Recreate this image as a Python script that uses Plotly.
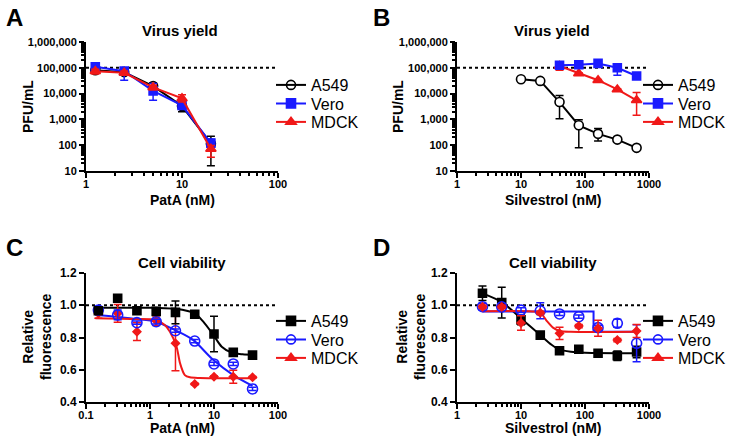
import plotly.graph_objects as go

# ---------------- data ----------------
# Panel A: virus yield vs PatA (nM)
A_conc = [1.25, 2.5, 5, 10, 20]
A_a549 = [80000, 68000, 19500, 3300, 115]
A_a549_hi = [95000, 80000, 26000, 4500, 220]
A_a549_lo = [62000, 55000, 14000, 2000, 16]
A_vero = [110000, 74000, 12700, 3500, 120]
A_vero_hi = [130000, 100000, 24500, 4200, 170]
A_vero_lo = [85000, 33000, 5500, 2800, 85]
A_mdck = [74000, 64000, 17500, 6500, 72]
A_mdck_hi = [88000, 75000, 21000, 9100, 98]
A_mdck_lo = [58000, 52000, 14000, 4700, 34]

# Panel B: virus yield vs Silvestrol (nM)
B_conc_a549 = [10, 20, 40, 80, 160, 320, 640]
B_a549 = [36000, 31000, 4700, 590, 275, 165, 79]
B_a549_hi = [38000, 33000, 8500, 980, 440, 185, 85]
B_a549_lo = [34000, 29000, 1070, 80, 145, 145, 73]
B_conc = [40, 80, 160, 320, 640]
B_vero = [126000, 131000, 148000, 100000, 48000]
B_vero_hi = [140000, 140000, 160000, 125000, 52000]
B_vero_lo = [112000, 122000, 136000, 51000, 44000]
B_mdck = [117000, 60000, 33000, 14500, 5500]
B_mdck_hi = [145000, 64000, 35000, 15500, 11000]
B_mdck_lo = [80000, 56000, 31000, 13500, 1450]

# Panel C: cell viability vs PatA (nM)
C_conc = [0.156, 0.3125, 0.625, 1.25, 2.5, 5, 10, 20, 40]
C_a549 = [0.966, 1.043, 0.966, 0.962, 0.956, 0.944, 0.822, 0.708, 0.691]
C_a549_err = [0.01, 0.01, 0.01, 0.01, 0.071, 0.02, 0.11, 0.01, 0.01]
C_vero = [0.97, 0.94, 0.892, 0.898, 0.842, 0.778, 0.636, 0.636, 0.481]
C_vero_err = [0.01, 0.03, 0.01, 0.015, 0.01, 0.01, 0.01, 0.01, 0.01]
C_mdck = [0.95, 0.95, 0.836, 0.904, 0.764, 0.512, 0.557, 0.557, 0.553]
C_mdck_err = [0.03, 0.055, 0.055, 0.03, 0.17, 0.005, 0.005, 0.04, 0.005]
# fitted curves
C_fit_a549_x = [0.14, 0.3125, 0.625, 1.25, 2.5, 5, 6.8, 9.8, 13.2, 18.9, 28, 40]
C_fit_a549_y = [0.985, 0.985, 0.985, 0.984, 0.978, 0.95, 0.898, 0.815, 0.743, 0.706, 0.696, 0.693]
C_fit_vero_x = [0.14, 0.3, 0.6, 1.24, 2.45, 4.7, 9.8, 20, 40]
C_fit_vero_y = [0.94, 0.929, 0.915, 0.898, 0.846, 0.785, 0.66, 0.567, 0.50]
C_fit_mdck_x = [0.14, 0.5, 1.24, 1.7, 2.05, 2.6, 2.95, 3.5, 4.2, 6, 10, 20, 40]
C_fit_mdck_y = [0.919, 0.915, 0.909, 0.878, 0.836, 0.743, 0.64, 0.567, 0.553, 0.549, 0.548, 0.548, 0.548]

# Panel D: cell viability vs Silvestrol (nM)
D_conc = [2.5, 5, 10, 20, 40, 80, 160, 320, 640]
D_a549 = [1.074, 1.016, 0.909, 0.815, 0.718, 0.727, 0.702, 0.687, 0.71]
D_a549_err = [0.045, 0.095, 0.03, 0.01, 0.01, 0.01, 0.01, 0.03, 0.035]
D_vero = [0.991, 0.99, 0.97, 0.966, 0.946, 0.929, 0.861, 0.888, 0.764]
D_vero_err = [0.02, 0.01, 0.015, 0.05, 0.01, 0.01, 0.015, 0.025, 0.115]
D_mdck = [0.99, 0.99, 0.89, 0.953, 0.826, 0.871, 0.857, 0.784, 0.84]
D_mdck_err = [0.01, 0.01, 0.045, 0.01, 0.038, 0.01, 0.05, 0.01, 0.04]
D_fit_a549_x = [2.5, 5, 10, 20, 30, 40, 60, 100, 640]
D_fit_a549_y = [1.074, 1.02, 0.918, 0.815, 0.755, 0.725, 0.712, 0.706, 0.703]
D_fit_vero_x = [2.5, 136, 136, 640]
D_fit_vero_y = [0.962, 0.962, 0.836, 0.836]
D_fit_mdck_x = [2.5, 15, 20, 25, 32, 41, 60, 640]
D_fit_mdck_y = [0.963, 0.962, 0.955, 0.905, 0.86, 0.84, 0.835, 0.835]

series_names = ["A549", "Vero", "MDCK"]
panel_letters = ["A", "B", "C", "D"]
panel_titles = ["Virus yield", "Virus yield", "Cell viability", "Cell viability"]
x_titles = ["PatA (nM)", "Silvestrol (nM)", "PatA (nM)", "Silvestrol (nM)"]
y_titles = ["PFU/mL", "PFU/mL", "Relative<br>fluorescence", "Relative<br>fluorescence"]

# ---------------- style ----------------
FONT = "Liberation Sans, Arial, sans-serif"
BLACK = "#000000"
BLUE = "#1a1aff"
RED = "#f01818"
W, H = 734, 446


def px_x(p):
    return p / W


def px_y(p):
    return 1 - p / H


fig = go.Figure()


def diff(a, b):
    return [x - y for x, y in zip(a, b)]


def add_yield(x, y, hi, lo, xa, ya, color, symbol, size, open_=False):
    fig.add_trace(go.Scatter(
        x=x, y=y, xaxis=xa, yaxis=ya, mode="lines+markers", showlegend=False,
        line=dict(color=color, width=2),
        marker=dict(symbol=symbol, size=size, color=color if not open_ else "white",
                    line=dict(color=color, width=1.6)),
        error_y=dict(type="data", symmetric=False, array=diff(hi, y), arrayminus=diff(y, lo),
                     color=color, thickness=1.5, width=4),
    ))


def add_viab(x, y, err, xa, ya, color, symbol, size):
    fig.add_trace(go.Scatter(
        x=x, y=y, xaxis=xa, yaxis=ya, mode="markers", showlegend=False,
        marker=dict(symbol=symbol, size=size, color=color,
                    line=dict(color=color, width=1.6)),
        error_y=dict(type="data", array=err, color=color, thickness=1.5, width=4),
    ))


def add_fit(x, y, xa, ya, color, shape="spline"):
    fig.add_trace(go.Scatter(
        x=x, y=y, xaxis=xa, yaxis=ya, mode="lines", showlegend=False,
        line=dict(color=color, width=2, shape=shape, smoothing=0.8 if shape == "spline" else None),
        hoverinfo="skip",
    ))


# fitted curves first (beneath markers)
add_fit(C_fit_a549_x, C_fit_a549_y, "x3", "y3", BLACK)
add_fit(C_fit_vero_x, C_fit_vero_y, "x3", "y3", BLUE)
add_fit(C_fit_mdck_x, C_fit_mdck_y, "x3", "y3", RED)
add_fit(D_fit_a549_x, D_fit_a549_y, "x4", "y4", BLACK)
add_fit(D_fit_vero_x, D_fit_vero_y, "x4", "y4", BLUE, shape="linear")
add_fit(D_fit_mdck_x, D_fit_mdck_y, "x4", "y4", RED)

# Panel A
add_yield(A_conc, A_a549, A_a549_hi, A_a549_lo, "x", "y", BLACK, "circle", 9, open_=True)
add_yield(A_conc, A_vero, A_vero_hi, A_vero_lo, "x", "y", BLUE, "square", 8)
add_yield(A_conc, A_mdck, A_mdck_hi, A_mdck_lo, "x", "y", RED, "triangle-up", 9)
# Panel B
add_yield(B_conc_a549, B_a549, B_a549_hi, B_a549_lo, "x2", "y2", BLACK, "circle", 9, open_=True)
add_yield(B_conc, B_mdck, B_mdck_hi, B_mdck_lo, "x2", "y2", RED, "triangle-up", 9)
add_yield(B_conc, B_vero, B_vero_hi, B_vero_lo, "x2", "y2", BLUE, "square", 8)
# Panel C
add_viab(C_conc, C_mdck, C_mdck_err, "x3", "y3", RED, "diamond", 6)
add_viab(C_conc, C_vero, C_vero_err, "x3", "y3", BLUE, "circle-open", 10)
add_viab(C_conc, C_a549, C_a549_err, "x3", "y3", BLACK, "square", 8)
# Panel D
add_viab(D_conc, D_a549, D_a549_err, "x4", "y4", BLACK, "square", 8)
add_viab(D_conc, D_vero, D_vero_err, "x4", "y4", BLUE, "circle-open", 10)
add_viab(D_conc, D_mdck, D_mdck_err, "x4", "y4", RED, "diamond", 6)

# legend-only traces: one single-item legend per row so the row spacing matches
legend_specs = [
    ("x", "y", 271, [85, 103.5, 122], [(BLACK, "circle-open"), (BLUE, "square"), (RED, "triangle-up")]),
    ("x2", "y2", 638, [85, 103.5, 122], [(BLACK, "circle-open"), (BLUE, "square"), (RED, "triangle-up")]),
    ("x3", "y3", 271, [321, 339.5, 358], [(BLACK, "square"), (BLUE, "circle-open"), (RED, "triangle-up")]),
    ("x4", "y4", 638, [321, 339.5, 358], [(BLACK, "square"), (BLUE, "circle-open"), (RED, "triangle-up")]),
]
leg_common = dict(font=dict(family=FONT, size=16, color=BLACK), bgcolor="rgba(0,0,0,0)",
                  borderwidth=0, itemwidth=30, tracegroupgap=0, yanchor="middle", xanchor="left",
                  itemclick=False, itemdoubleclick=False)
legends = {}
k = 0
for xa, ya, lx, rows, specs in legend_specs:
    for name, (col, sym), ry in zip(series_names, specs, rows):
        k += 1
        lname = "legend" if k == 1 else f"legend{k}"
        legends[lname] = dict(leg_common, x=px_x(lx), y=px_y(ry))
        fig.add_trace(go.Scatter(
            x=[None], y=[None], xaxis=xa, yaxis=ya, mode="lines+markers", name=name,
            legend=lname, line=dict(color=col, width=2),
            marker=dict(symbol=sym, size=9, color=col, line=dict(color=col, width=1.6)),
        ))
fig.update_layout(**legends)

# ---------------- axes ----------------
tickfont = dict(family=FONT, size=11, color=BLACK, weight="bold")
tickfont_c = dict(family=FONT, size=12, color=BLACK, weight="bold")
base = dict(showline=True, linecolor=BLACK, linewidth=2, ticks="outside", ticklen=5,
            tickwidth=2, tickcolor=BLACK, showgrid=False, zeroline=False, tickfont=tickfont)
minor = dict(ticks="outside", ticklen=3, tickwidth=1.5, tickcolor=BLACK, showgrid=False)
xs = dict(ticklabelstandoff=-3)

xdomL = [px_x(86), px_x(278)]
xdomR = [px_x(457), px_x(649)]
ydomT = [px_y(171), px_y(42)]
ydomB = [px_y(402), px_y(273)]

fig.update_layout(
    xaxis=dict(base, **xs, type="log", range=[0, 2], dtick=1, minor=minor, domain=xdomL, anchor="y"),
    yaxis=dict(base, type="log", range=[1, 6], dtick=1, tickformat=",d", minor=minor, domain=ydomT, anchor="x"),
    xaxis2=dict(base, **xs, type="log", range=[0, 3], dtick=1, minor=minor, domain=xdomR, anchor="y2"),
    yaxis2=dict(base, type="log", range=[1, 6], dtick=1, tickformat=",d", minor=minor, domain=ydomT, anchor="x2"),
    xaxis3=dict(base, **xs, type="log", range=[-1, 2], dtick=1, minor=minor, domain=xdomL, anchor="y3"),
    yaxis3=dict(base, range=[0.4, 1.2], dtick=0.2, tickformat=".1f", domain=ydomB, anchor="x3"),
    xaxis4=dict(base, **xs, type="log", range=[0, 3], dtick=1, minor=minor, domain=xdomR, anchor="y4"),
    yaxis4=dict(base, range=[0.4, 1.2], dtick=0.2, tickformat=".1f", domain=ydomB, anchor="x4"),
)
fig.update_layout(yaxis3_tickfont=tickfont_c, yaxis4_tickfont=tickfont_c)

# dotted reference lines
for xa, ya, yv in [("x", "y", 100000), ("x2", "y2", 100000), ("x3", "y3", 1.0), ("x4", "y4", 1.0)]:
    fig.add_shape(type="line", xref=f"{xa} domain", x0=0, x1=1, yref=ya, y0=yv, y1=yv,
                  line=dict(color=BLACK, width=2, dash="dot"), layer="below")

# annotations: letters, titles, axis titles
ann = []
letter_pos = [(4, 17), (371, 17), (4, 247), (371, 247)]
title_pos = [(180, 31), (552, 31), (182, 262), (553, 262)]
xtitle_pos = [(182, 200), (553, 200), (182, 428), (553, 428)]
ytitle_pos = [(28, 107), (398, 107), (37, 337), (411, 337)]
for i in range(4):
    lx, ly = letter_pos[i]
    ann.append(dict(text=panel_letters[i], x=px_x(lx), y=px_y(ly), xref="paper", yref="paper",
                    xanchor="left", yanchor="middle", showarrow=False,
                    font=dict(family=FONT, size=24, color=BLACK, weight="bold")))
    tx, ty = title_pos[i]
    ann.append(dict(text=panel_titles[i], x=px_x(tx), y=px_y(ty), xref="paper", yref="paper",
                    xanchor="center", yanchor="middle", showarrow=False,
                    font=dict(family=FONT, size=15, color=BLACK, weight="bold")))
    xx, xy = xtitle_pos[i]
    ann.append(dict(text=x_titles[i], x=px_x(xx), y=px_y(xy), xref="paper", yref="paper",
                    xanchor="center", yanchor="middle", showarrow=False,
                    font=dict(family=FONT, size=14, color=BLACK, weight="bold")))
    yx, yy = ytitle_pos[i]
    ann.append(dict(text=y_titles[i], x=px_x(yx), y=px_y(yy), xref="paper", yref="paper",
                    xanchor="center", yanchor="middle", showarrow=False, textangle=-90,
                    font=dict(family=FONT, size=14, color=BLACK, weight="bold")))

fig.update_layout(
    annotations=ann,
    width=W, height=H,
    margin=dict(l=0, r=0, t=0, b=0, autoexpand=False),
    paper_bgcolor="white", plot_bgcolor="white",
    font=dict(family=FONT, color=BLACK),
)

fig.write_html("out.html", config={"displayModeBar": False},
               post_script="document.body.style.margin='0';document.body.style.overflow='hidden';")
